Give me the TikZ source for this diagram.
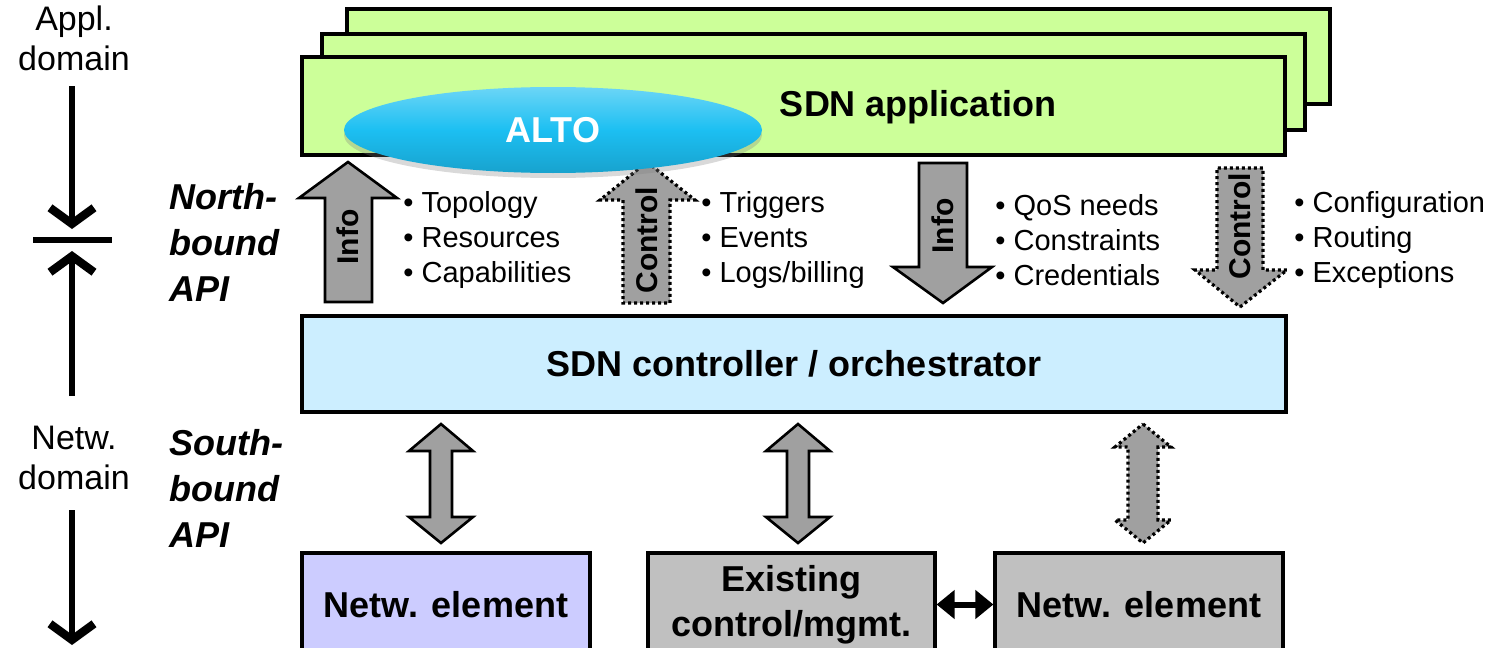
\documentclass[tikz,border=0pt]{standalone}
\usepackage{fontspec}
\setmainfont{Liberation Sans}
\usepackage{xcolor}
\usepackage{tikz}
\usetikzlibrary{shapes.geometric, arrows.meta, positioning, shadows}
\definecolor{appgreen}{HTML}{CCFF99}
\definecolor{ctrlblue}{HTML}{CCEEFF}
\definecolor{nelilac}{HTML}{CCCCFF}
\definecolor{boxgray}{HTML}{C0C0C0}
\definecolor{arrowgray}{HTML}{A0A0A0}
\definecolor{altoblue}{HTML}{1CBFF2}
\newcommand{\sdnhead}{\fontsize{18}{22.5}\selectfont\bfseries}
\newcommand{\sdnlist}{\fontsize{14.5}{17.5}\selectfont}
\newcommand{\sdnside}{\fontsize{17}{20}\selectfont}
\newcommand{\sdnapi}{\fontsize{18}{23}\selectfont\bfseries\itshape}
\newcommand{\sdntag}{\fontsize{15}{17}\selectfont\bfseries}

\begin{document}
\begin{tikzpicture}[x=0.5pt, y=-0.5pt,
    layer/.style={draw=black, line width=1.6pt, fill=#1, inner sep=0pt, font=\sdnhead, align=center},
    alto/.style={ellipse, draw=none, top color=altoblue!65!white, bottom color=altoblue!85!black, middle color=altoblue,
        drop shadow={opacity=0.3, shadow xshift=0pt, shadow yshift=-2.5pt}, text=white, font=\sdnhead, inner sep=0pt},
    fatarrow/.style={draw=black, fill=arrowgray, line width=1.3pt, line join=miter},
    fatdotted/.style={fatarrow, line width=1.6pt, dash pattern=on 1.5pt off 1.5pt},
    tag/.style={font=\sdntag, rotate=90, inner sep=0pt},
    items/.style={font=\sdnlist, align=left, anchor=west, inner sep=0pt},
    domarrow/.style={line width=2.6pt, -{Straight Barb[length=8pt, width=22pt, line width=4.2pt]}}
]
\useasboundingbox (0,0) rectangle (1496,648);

% Application layer (stacked)
\node[layer=appgreen, minimum width=491.5pt, minimum height=47.5pt] (appback) at (838.5,56.5) {};
\node[layer=appgreen, minimum width=491.5pt, minimum height=48pt] (appmid) at (813.5,82) {};
\node[layer=appgreen, minimum width=491.5pt, minimum height=49pt] (app) at (793.5,106) {};
\node[font=\sdnhead] (apptext) at (918,107) {SDN application};

% Controller
\node[layer=ctrlblue, minimum width=492pt, minimum height=48pt] (ctrl) at (794,364) {SDN controller / orchestrator};

% Network elements
\node[layer=nelilac, minimum width=144pt, minimum height=51.5pt] (ne1) at (446,604.5) {Netw. element};
\node[layer=boxgray, minimum width=143.5pt, minimum height=51.5pt] (mgmt) at (791.5,604.5) {Existing\\control/mgmt.};
\node[layer=boxgray, minimum width=144pt, minimum height=51.5pt] (ne2) at (1139,604.5) {Netw. element};
\draw[line width=3pt, {Triangle[length=9pt,width=14pt]}-{Triangle[length=9pt,width=14pt]}] (mgmt.east) -- (ne2.west);

% Northbound arrows
\draw[fatarrow] (348,162) -- (397,198) -- (372,198) -- (372,302) -- (325,302) -- (325,198) -- (299,198) -- cycle;
\node[tag] (infoup) at (348,237) {Info};
\draw[fatdotted] (647,162) -- (695,200) -- (670,200) -- (670,303) -- (623,303) -- (623,200) -- (600,200) -- cycle;
\node[tag] (ctrlup) at (647,240) {Control};
\draw[fatarrow] (943,303) -- (992,267) -- (967,267) -- (967,163) -- (919,163) -- (919,267) -- (893,267) -- cycle;
\node[tag] (infodown) at (943,226) {Info};
\draw[fatdotted] (1240,307) -- (1287,270) -- (1263,270) -- (1263,168) -- (1217,168) -- (1217,270) -- (1195,270) -- cycle;
\node[tag] (ctrldown) at (1240,226) {Control};

% ALTO on top of the application
\node[alto, minimum width=209pt, minimum height=43pt] (alto) at (553,130) {ALTO};

% Exchanged items
\node[items] (upinfo) at (403,240) {• Topology\\• Resources\\• Capabilities};
\node[items] (upctrl) at (701,240) {• Triggers\\• Events\\• Logs/billing};
\node[items] (downinfo) at (995,240) {• QoS needs\\• Constraints\\• Credentials};
\node[items] (downctrl) at (1294,240) {• Configuration\\• Routing\\• Exceptions};

% Southbound arrows
\draw[fatarrow] (441,424) -- (473,451) -- (452,451) -- (452,517) -- (473,517) -- (441,543) -- (409,517) -- (430,517) -- (430,451) -- (409,451) -- cycle;
\draw[fatarrow] (798,424) -- (830,451) -- (809,451) -- (809,517) -- (830,517) -- (798,543) -- (766,517) -- (787,517) -- (787,451) -- (766,451) -- cycle;
\draw[fatdotted] (1143,424) -- (1171,447) -- (1158,447) -- (1158,520) -- (1171,520) -- (1143,543) -- (1115,520) -- (1128,520) -- (1128,447) -- (1115,447) -- cycle;

% Domains and APIs
\node[font=\sdnside, align=center] (appl) at (74,38) {Appl.\\domain};
\node[font=\sdnside, align=center] (netw) at (74,458) {Netw.\\domain};
\coordinate (barl) at (33,240);
\coordinate (barr) at (112,240);
\draw[line width=2.6pt] (barl) -- (barr);
\draw[domarrow] (72,86) -- (72,229);
\draw[domarrow] (72,396) -- (72,251);
\draw[domarrow] (72,510) -- (72,645);
\node[font=\sdnapi, align=left, anchor=west] (north) at (162,242) {North-\\bound\\API};
\node[font=\sdnapi, align=left, anchor=west] (south) at (162,488) {South-\\bound\\API};

\end{tikzpicture}
\end{document}
